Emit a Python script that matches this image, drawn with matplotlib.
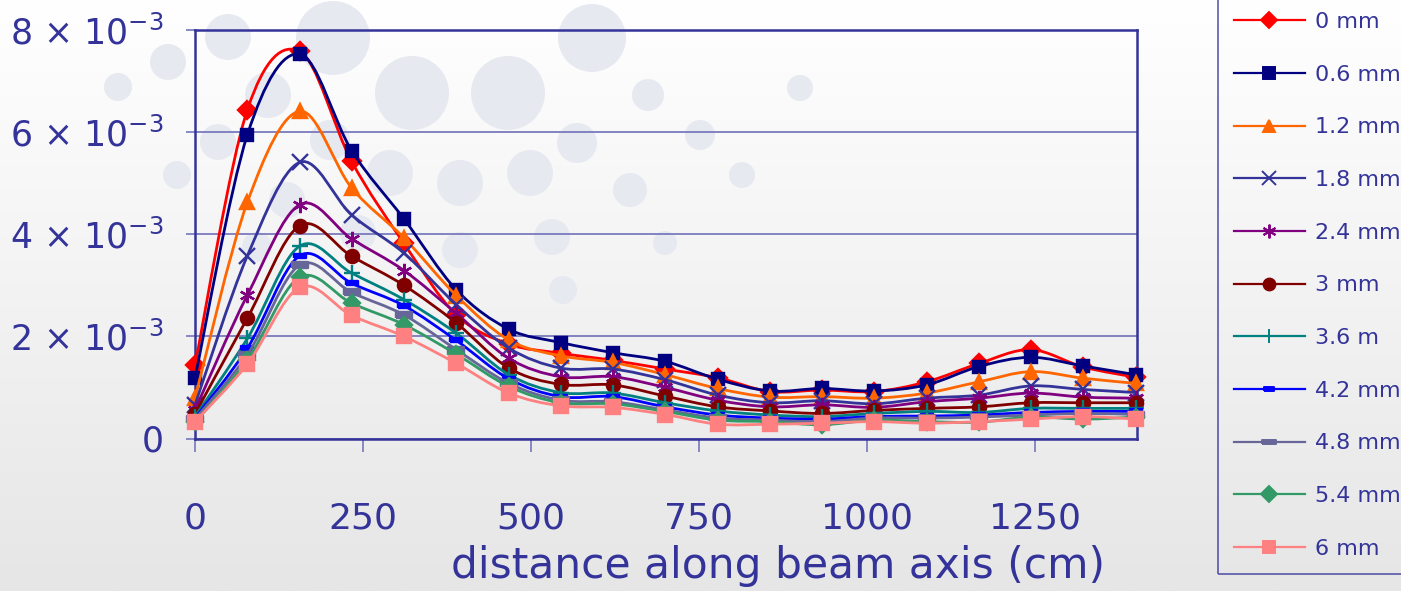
import numpy as np
import matplotlib
matplotlib.use("Agg")
import matplotlib.pyplot as plt
from matplotlib.path import Path
from matplotlib.patches import PathPatch, Circle
from matplotlib.lines import Line2D
from matplotlib.colors import LinearSegmentedColormap

# distance along beam axis (cm)
distance = [0, 78, 156, 233, 311, 389, 467, 544, 622, 700, 778, 856, 933, 1011, 1089, 1167, 1244, 1322, 1400]

# values in units of 1e-3
mm_0_0 = [1.44, 6.44, 7.58, 5.43, 3.82, 2.42, 1.85, 1.67, 1.53, 1.36, 1.19, 0.92, 0.95, 0.92, 1.11, 1.47, 1.74, 1.40, 1.20]
mm_0_6 = [1.19, 5.95, 7.53, 5.64, 4.30, 2.91, 2.14, 1.88, 1.68, 1.51, 1.16, 0.93, 0.98, 0.93, 1.05, 1.41, 1.59, 1.42, 1.25]
mm_1_2 = [0.79, 4.63, 6.41, 4.91, 3.93, 2.80, 1.93, 1.62, 1.49, 1.25, 0.98, 0.81, 0.82, 0.79, 0.89, 1.11, 1.31, 1.18, 1.08]
mm_1_8 = [0.66, 3.58, 5.41, 4.38, 3.63, 2.62, 1.77, 1.38, 1.36, 1.15, 0.85, 0.70, 0.74, 0.68, 0.79, 0.85, 1.03, 0.96, 0.90]
mm_2_4 = [0.56, 2.81, 4.58, 3.91, 3.29, 2.45, 1.57, 1.21, 1.21, 1.00, 0.75, 0.62, 0.66, 0.61, 0.72, 0.79, 0.89, 0.81, 0.79]
mm_3_0 = [0.48, 2.36, 4.17, 3.57, 3.00, 2.26, 1.38, 1.06, 1.05, 0.83, 0.62, 0.54, 0.49, 0.55, 0.59, 0.62, 0.70, 0.70, 0.70]
mm_3_6 = [0.43, 1.96, 3.77, 3.24, 2.72, 2.06, 1.25, 0.90, 0.89, 0.70, 0.54, 0.46, 0.43, 0.49, 0.53, 0.51, 0.59, 0.59, 0.59]
mm_4_2 = [0.40, 1.77, 3.58, 3.04, 2.60, 1.92, 1.17, 0.82, 0.82, 0.62, 0.46, 0.40, 0.38, 0.43, 0.44, 0.46, 0.51, 0.53, 0.53]
mm_4_8 = [0.38, 1.64, 3.40, 2.86, 2.42, 1.74, 1.08, 0.75, 0.72, 0.56, 0.40, 0.36, 0.33, 0.40, 0.40, 0.42, 0.46, 0.49, 0.47]
mm_5_4 = [0.32, 1.54, 3.16, 2.65, 2.23, 1.65, 1.02, 0.70, 0.68, 0.53, 0.36, 0.33, 0.27, 0.36, 0.33, 0.32, 0.42, 0.38, 0.42]
mm_6_0 = [0.33, 1.46, 2.96, 2.41, 2.00, 1.47, 0.89, 0.64, 0.61, 0.47, 0.28, 0.28, 0.30, 0.33, 0.30, 0.33, 0.38, 0.43, 0.38]

labels = ["0 mm", "0.6 mm", "1.2 mm", "1.8 mm", "2.4 mm", "3 mm", "3.6 m", "4.2 mm", "4.8 mm", "5.4 mm", "6 mm"]
series = [mm_0_0, mm_0_6, mm_1_2, mm_1_8, mm_2_4, mm_3_0, mm_3_6, mm_4_2, mm_4_8, mm_5_4, mm_6_0]

xticks = [0, 250, 500, 750, 1000, 1250]
yticks = [0, 2, 4, 6, 8]

# styles
colors = ["#ff0000", "#000080", "#ff6600", "#333399", "#800080", "#800000",
          "#008080", "#0000ff", "#666699", "#339966", "#ff8080"]
dash = [(-1, -0.35), (1, -0.35), (1, 0.35), (-1, 0.35), (-1, -0.35)]
markers = ["D", "s", "^", "x", (6, 2, 0), "o", "+", dash, dash, "D", "s"]
sizes = [9, 9, 10, 11, 11, 9.5, 11, 8, 11, 8.5, 10]
textc = "#333399"

# decorative background circles (pixel x, y, radius)
circles = [(228, 37, 23), (333, 38, 37), (168, 62, 18), (118, 87, 14), (268, 95, 23),
           (412, 93, 37), (508, 93, 37), (592, 38, 34), (218, 142, 18), (330, 140, 20),
           (390, 173, 23), (460, 183, 23), (530, 173, 23), (577, 143, 20), (287, 200, 18),
           (177, 175, 14), (257, 247, 15), (358, 233, 18), (460, 250, 18), (552, 237, 18),
           (563, 290, 14), (630, 190, 17), (665, 243, 12), (742, 175, 13), (800, 88, 13),
           (648, 95, 16), (700, 135, 15)]

W, H = 1401, 591
fig = plt.figure(figsize=(W / 100, H / 100), dpi=100)

# background gradient
bg = fig.add_axes([0, 0, 1, 1], zorder=-5)
grad = np.linspace(0, 1, 256).reshape(-1, 1)
cmap = LinearSegmentedColormap.from_list("bg", ["#ffffff", "#e6e6e6"])
bg.imshow(grad, extent=[0, W, H, 0], aspect="auto", cmap=cmap)
for cx, cy, r in circles:
    bg.add_patch(Circle((cx, cy), r, color="#e6e9f0", lw=0))
bg.set_xlim(0, W)
bg.set_ylim(H, 0)
bg.axis("off")

ax = fig.add_axes([195 / W, 1 - 438.5 / H, (1137 - 195) / W, (438.5 - 30) / H])
ax.patch.set_alpha(0)


def smooth_path(xs, ys):
    # Bezier (Catmull-Rom) smoothed line like the spreadsheet "smoothed line"
    p = np.column_stack([xs, ys])
    n = len(p)
    verts = [p[0]]
    codes = [Path.MOVETO]
    for i in range(n - 1):
        p0 = p[max(i - 1, 0)]
        p3 = p[min(i + 2, n - 1)]
        c1 = p[i] + (p[i + 1] - p0) / 6
        c2 = p[i + 1] - (p3 - p[i]) / 6
        verts += [c1, c2, p[i + 1]]
        codes += [Path.CURVE4] * 3
    return Path(verts, codes)


handles = []
for k, vals in enumerate(series):
    y = np.array(vals) * 1e-3
    ax.add_patch(PathPatch(smooth_path(distance, y), fill=False, edgecolor=colors[k],
                           lw=2, zorder=3 + k, clip_on=False))
    mk = markers[k]
    ax.plot(distance, y, linestyle="none", marker=mk, ms=sizes[k], color=colors[k],
            mew=1.7, zorder=3 + k, clip_on=False)
    handles.append(Line2D([], [], color=colors[k], lw=1.6, marker=mk,
                          ms=sizes[k] * 0.9, mew=1.4))

ax.set_xlim(0, 1402)
ax.set_ylim(0, 8e-3)
ax.set_xticks(xticks)
ax.set_xticklabels([str(v) for v in xticks])
ax.set_yticks([v * 1e-3 for v in yticks])
ax.set_yticklabels(["0"] + [f"{v} × 10$^{{-3}}$" for v in yticks[1:]])
ax.grid(axis="y", color="#7070b8", lw=1.2)
ax.set_axisbelow(True)
for s in ax.spines.values():
    s.set_color(textc)
    s.set_linewidth(1.8)
ax.tick_params(axis="x", length=9.5, width=1.3, color="#8080c0", pad=36,
               labelsize=26, labelcolor=textc)
ax.tick_params(axis="y", length=6.5, width=1.3, color="#8080c0", pad=16,
               labelsize=25, labelcolor=textc)

ax.set_xlabel("distance along beam axis (cm)", fontsize=30.5, color=textc, va="center")
ax.xaxis.set_label_coords((778 - 195) / 942, (438.5 - 566) / 408.5)

leg = fig.legend(handles, labels, loc="upper left", bbox_to_anchor=(1218 / W, 1.006),
                 fontsize=16, frameon=True, fancybox=False, handlelength=3.2,
                 handletextpad=0.45, labelspacing=1.47, borderpad=0.7,
                 borderaxespad=0, labelcolor=textc)
leg.get_frame().set_edgecolor(textc)
leg.get_frame().set_facecolor("none")
leg.get_frame().set_linewidth(1.2)

fig.savefig("out.png", dpi=100)
